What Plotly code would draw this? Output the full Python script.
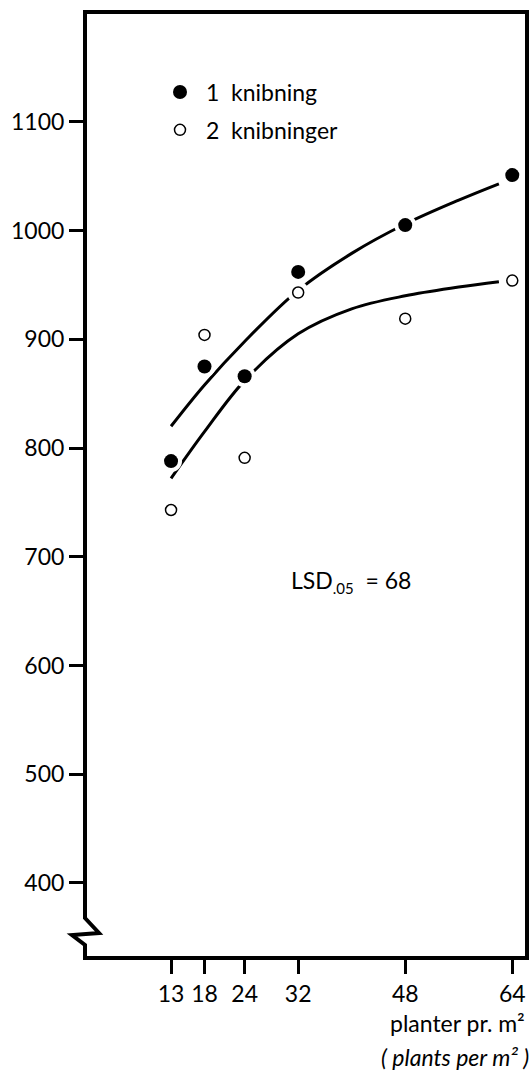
import plotly.graph_objects as go

# Plant density (plants per m²)
density = [13, 18, 24, 32, 48, 64]
# Yield with one pinching and with two pinchings
one_pinch = [788, 875, 866, 962, 1005, 1051]
two_pinch = [743, 904, 791, 943, 919, 954]

# Fitted response curves, read at these densities
curve_x = [13, 18, 24, 32, 40, 48, 56, 62]
curve_one = [820, 858, 898, 945, 979, 1006, 1028, 1043]
curve_two = [772, 815, 862, 905, 928, 940, 948, 953]

y_ticks = [400, 500, 600, 700, 800, 900, 1000, 1100]

FONT = "Lato"
L, R, T, B = 85, 4, 12, 114
W, H = 531, 1072
pw, ph = W - L - R, H - T - B


def px(xp):
    return (xp - L) / pw


def py(yp):
    return (H - B - yp) / ph


fig = go.Figure()

for cy in (curve_one, curve_two):
    fig.add_trace(go.Scatter(x=curve_x, y=cy, mode="lines",
                             line=dict(color="black", width=3, shape="spline", smoothing=1.0),
                             showlegend=False, hoverinfo="skip"))

# white halos open small gaps in the curves around each point
for ys in (one_pinch, two_pinch):
    fig.add_trace(go.Scatter(x=density, y=ys, mode="markers",
                             marker=dict(size=22, color="white", line=dict(width=0)),
                             showlegend=False, hoverinfo="skip"))

NB = "\u00a0"
fig.add_trace(go.Scatter(x=density, y=one_pinch, mode="markers", legendgroup="one",
                         name=f"{NB}1{NB}{NB}knibning",
                         marker=dict(size=14, color="black", line=dict(width=0))))
fig.add_trace(go.Scatter(x=density, y=two_pinch, mode="markers", legendgroup="two",
                         name=f"{NB}2{NB}{NB}knibninger",
                         marker=dict(size=11, color="white", line=dict(width=1.5, color="black"))))

# frame with a broken left axis near the bottom
frame = (f"M {px(85)},{py(958)} L {px(85)},{py(945)} L {px(72)},{py(935)} "
         f"L {px(99)},{py(933)} L {px(85)},{py(918)} L {px(85)},{py(T)} "
         f"L {px(527)},{py(T)} L {px(527)},{py(958)} Z")
fig.add_shape(type="path", path=frame, xref="paper", yref="paper",
              line=dict(color="black", width=4), fillcolor="rgba(0,0,0,0)")

fig.add_annotation(x=30.6, y=677, xref="x", yref="y", xanchor="left", yanchor="middle",
                   text="LSD<sub><span style='font-size:15px'>.05</span></sub>  = 68",
                   showarrow=False, font=dict(family=FONT, size=23, color="black"))
fig.add_annotation(x=1.0, y=py(1023), xref="paper", yref="paper", xanchor="right",
                   yanchor="middle", text="planter pr. m²", showarrow=False,
                   font=dict(family=FONT, size=23, color="black"))
fig.add_annotation(x=px(531), y=py(1057), xref="paper", yref="paper", xanchor="right",
                   yanchor="middle", text="<i>( plants per m² )</i>", showarrow=False,
                   font=dict(family=FONT, size=23, color="black"))

fig.update_layout(
    width=W, height=H,
    margin=dict(l=L, r=R, t=T, b=B, pad=0),
    paper_bgcolor="white", plot_bgcolor="white",
    font=dict(family=FONT, size=22, color="black"),
    showlegend=True,
    legend=dict(x=px(160), y=py(111), xanchor="left", yanchor="middle",
                bgcolor="rgba(0,0,0,0)", font=dict(family=FONT, size=23),
                itemsizing="trace", tracegroupgap=5),
    xaxis=dict(range=[0.14, 66.2], tickmode="array", tickvals=density,
               ticktext=[str(d) for d in density], ticks="outside", ticklen=15,
               tickwidth=3, tickcolor="black", showgrid=False, zeroline=False,
               showline=False, tickfont=dict(family=FONT, size=23)),
    yaxis=dict(range=[331, 1201], tickmode="array", tickvals=y_ticks,
               ticks="outside", ticklen=15, tickwidth=3, tickcolor="black",
               showgrid=False, zeroline=False, showline=False,
               tickfont=dict(family=FONT, size=23)),
)

fig.write_html("out.html")
